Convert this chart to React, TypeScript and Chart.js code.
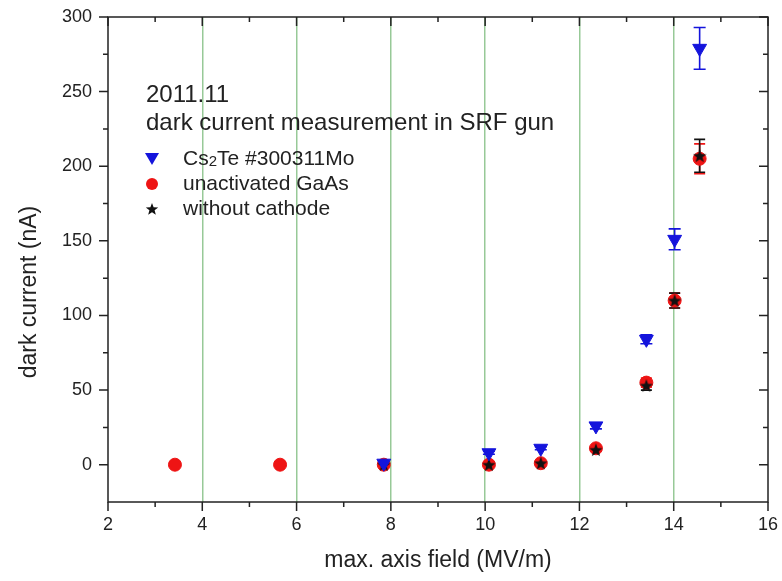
import React, { useEffect, useRef } from 'react';
import { Chart, registerables } from 'chart.js';

Chart.register(...registerables);

// ---- data ----
const xTicks = [2, 4, 6, 8, 10, 12, 14, 16];
const xMinorTicks = [3, 5, 7, 9, 11, 13, 15];
const yTicks = [0, 50, 100, 150, 200, 250, 300];
const yMinorTicks = [25, 75, 125, 175, 225, 275];
const gridLines = [4, 6, 8, 10, 12, 14];

const cs2teX = [7.85, 10.08, 11.18, 12.35, 13.42, 14.02, 14.55];
const cs2teY = [1, 8, 11, 26, 84, 151, 279];
const cs2teErr = [1, 1, 1, 2, 3, 7, 14];

const gaasX = [3.42, 5.65, 7.85, 10.08, 11.18, 12.35, 13.42, 14.02, 14.55];
const gaasY = [0, 0, 0, 0, 1, 11, 55, 110, 205];
const gaasErr = [0, 0, 0, 1, 1, 1, 3, 5, 10];

const noCathX = [7.85, 10.08, 11.18, 12.35, 13.42, 14.02, 14.55];
const noCathY = [0, 0, 1, 10, 53, 110, 207];
const noCathErr = [0, 0, 1, 1, 3, 5, 11];

const legendTitle1 = '2011.11';
const legendTitle2 = 'dark current measurement in SRF gun';
const xTitle = 'max. axis field (MV/m)';
const yTitle = 'dark current (nA)';

const FONT = "'Liberation Sans', Arial, sans-serif";
const TXT = '#222';
const BLUE = '#1414dc';
const RED = '#ee1414';
const BLACK = '#111';
const GREEN = 'rgba(140,195,140,0.9)';

function starPath(ctx: CanvasRenderingContext2D, cx: number, cy: number, R: number) {
  const r = R * 0.42;
  ctx.beginPath();
  for (let i = 0; i < 10; i++) {
    const rad = i % 2 === 0 ? R : r;
    const a = -Math.PI / 2 + (i * Math.PI) / 5;
    const px = cx + rad * Math.cos(a);
    const py = cy + rad * Math.sin(a);
    if (i === 0) ctx.moveTo(px, py);
    else ctx.lineTo(px, py);
  }
  ctx.closePath();
}

function makeStar(size: number, color: string) {
  const c = document.createElement('canvas');
  c.width = size;
  c.height = size;
  const g = c.getContext('2d')!;
  g.fillStyle = color;
  starPath(g, size / 2, size / 2 + size * 0.04, size / 2);
  g.fill();
  return c;
}

const errorBarPlugin = {
  id: 'errorBars',
  beforeDatasetsDraw(chart: any) {
    const { ctx } = chart;
    const xs = chart.scales.x;
    const ys = chart.scales.y;
    const sets = [
      { x: gaasX, y: gaasY, e: gaasErr, c: RED, w: 11 },
      { x: noCathX, y: noCathY, e: noCathErr, c: BLACK, w: 11 },
      { x: cs2teX, y: cs2teY, e: cs2teErr, c: BLUE, w: 12 },
    ];
    ctx.save();
    ctx.lineWidth = 1.6;
    for (const s of sets) {
      ctx.strokeStyle = s.c;
      for (let i = 0; i < s.x.length; i++) {
        if (!s.e[i]) continue;
        const px = xs.getPixelForValue(s.x[i]);
        const top = ys.getPixelForValue(s.y[i] + s.e[i]);
        const bot = ys.getPixelForValue(s.y[i] - s.e[i]);
        ctx.beginPath();
        ctx.moveTo(px, top);
        ctx.lineTo(px, bot);
        ctx.moveTo(px - s.w / 2, top);
        ctx.lineTo(px + s.w / 2, top);
        ctx.moveTo(px - s.w / 2, bot);
        ctx.lineTo(px + s.w / 2, bot);
        ctx.stroke();
      }
    }
    ctx.restore();
  },
};

const framePlugin = {
  id: 'frame',
  afterDatasetsDraw(chart: any) {
    const { ctx, chartArea: a } = chart;
    const xs = chart.scales.x;
    const ys = chart.scales.y;
    const MAJ = 9;
    const MIN = 5;
    ctx.save();
    ctx.strokeStyle = '#222';
    ctx.lineWidth = 1.5;
    ctx.strokeRect(a.left, a.top, a.right - a.left, a.bottom - a.top);
    ctx.beginPath();
    const xt = (v: number, len: number) => {
      const p = xs.getPixelForValue(v);
      ctx.moveTo(p, a.bottom);
      ctx.lineTo(p, a.bottom + len);
      ctx.moveTo(p, a.top);
      ctx.lineTo(p, a.top + len);
    };
    const yt = (v: number, len: number) => {
      const p = ys.getPixelForValue(v);
      ctx.moveTo(a.left, p);
      ctx.lineTo(a.left - len, p);
      ctx.moveTo(a.right, p);
      ctx.lineTo(a.right - len, p);
    };
    xTicks.forEach((v) => xt(v, MAJ));
    xMinorTicks.forEach((v) => xt(v, MIN));
    yTicks.forEach((v) => yt(v, MAJ));
    yMinorTicks.forEach((v) => yt(v, MIN));
    ctx.stroke();
    ctx.restore();
  },
};

const annotationPlugin = {
  id: 'annot',
  afterDraw(chart: any) {
    const { ctx } = chart;
    ctx.save();
    ctx.fillStyle = TXT;
    ctx.textBaseline = 'middle';
    ctx.textAlign = 'left';
    ctx.font = `24px ${FONT}`;
    ctx.fillText(legendTitle1, 146, 95);
    ctx.fillText(legendTitle2, 146, 123);

    const mx = 152;
    const tx = 183;
    const rows = [159, 184, 209];
    // entry 1: triangle
    ctx.fillStyle = BLUE;
    ctx.beginPath();
    ctx.moveTo(mx - 7, rows[0] - 6);
    ctx.lineTo(mx + 7, rows[0] - 6);
    ctx.lineTo(mx, rows[0] + 6);
    ctx.closePath();
    ctx.fill();
    // entry 2: circle
    ctx.fillStyle = RED;
    ctx.beginPath();
    ctx.arc(mx, rows[1], 6, 0, Math.PI * 2);
    ctx.fill();
    // entry 3: star
    ctx.fillStyle = BLACK;
    starPath(ctx, mx, rows[2] + 0.5, 6.5);
    ctx.fill();

    ctx.fillStyle = TXT;
    ctx.font = `21px ${FONT}`;
    // Cs2Te with subscript
    let x = tx;
    ctx.fillText('Cs', x, rows[0]);
    x += ctx.measureText('Cs').width;
    ctx.font = `15px ${FONT}`;
    ctx.fillText('2', x, rows[0] + 3);
    x += ctx.measureText('2').width;
    ctx.font = `21px ${FONT}`;
    ctx.fillText('Te #300311Mo', x, rows[0]);
    ctx.fillText('unactivated GaAs', tx, rows[1]);
    ctx.fillText('without cathode', tx, rows[2]);

    // y axis title
    ctx.save();
    ctx.translate(30, 292);
    ctx.rotate(-Math.PI / 2);
    ctx.textAlign = 'center';
    ctx.font = `23px ${FONT}`;
    ctx.fillText(yTitle, 0, 0);
    ctx.restore();
    ctx.restore();
  },
};

export default function App() {
  const ref = useRef<HTMLCanvasElement | null>(null);
  useEffect(() => {
    if (!ref.current) return;
    const star = makeStar(14, BLACK);
    const chart = new Chart(ref.current, {
      type: 'scatter',
      data: {
        datasets: [
          {
            label: 'Cs2Te #300311Mo',
            data: cs2teX.map((x, i) => ({ x, y: cs2teY[i] })),
            pointStyle: 'triangle',
            rotation: 180,
            radius: 8,
            backgroundColor: BLUE,
            borderColor: BLUE,
            borderWidth: 1,
            order: 0,
          },
          {
            label: 'without cathode',
            data: noCathX.map((x, i) => ({ x, y: noCathY[i] })),
            pointStyle: star as any,
            radius: 7,
            backgroundColor: BLACK,
            borderColor: BLACK,
            order: 1,
          },
          {
            label: 'unactivated GaAs',
            data: gaasX.map((x, i) => ({ x, y: gaasY[i] })),
            pointStyle: 'circle',
            radius: 6.5,
            backgroundColor: RED,
            borderColor: RED,
            borderWidth: 1,
            order: 2,
          },
        ],
      },
      options: {
        responsive: false,
        animation: false,
        events: [],
        layout: { padding: 0 },
        plugins: {
          legend: { display: false },
          tooltip: { enabled: false },
        },
        scales: {
          x: {
            type: 'linear',
            min: 2,
            max: 16,
            afterBuildTicks: (axis: any) => {
              axis.ticks = xTicks.map((v) => ({ value: v }));
            },
            afterFit: (s: any) => {
              s.height = 79;
              s.paddingLeft = 0;
              s.paddingRight = 14;
            },
            grid: {
              drawTicks: false,
              lineWidth: 1.5,
              color: (c: any) =>
                c.tick && gridLines.includes(c.tick.value) ? GREEN : 'rgba(0,0,0,0)',
            },
            border: { display: false },
            ticks: {
              padding: 12,
              autoSkip: false,
              maxRotation: 0,
              color: TXT,
              font: { family: FONT, size: 18 },
            },
            title: {
              display: true,
              text: xTitle,
              color: TXT,
              font: { family: FONT, size: 23 },
              padding: { top: 0, bottom: 7 },
            },
          },
          y: {
            type: 'linear',
            min: -25,
            max: 300,
            afterBuildTicks: (axis: any) => {
              axis.ticks = yTicks.map((v) => ({ value: v }));
            },
            afterFit: (s: any) => {
              s.width = 108;
              s.paddingTop = 17;
              s.paddingBottom = 0;
            },
            grid: { display: false, drawTicks: false },
            border: { display: false },
            ticks: {
              padding: 16,
              autoSkip: false,
              color: TXT,
              font: { family: FONT, size: 18 },
            },
          },
        },
      },
      plugins: [errorBarPlugin, framePlugin, annotationPlugin],
    } as any);
    return () => chart.destroy();
  }, []);
  return (
    <div style={{ position: 'absolute', left: 0, top: 0, width: 782, height: 581, background: '#fff' }}>
      <canvas ref={ref} width={782} height={581} style={{ display: 'block' }} />
    </div>
  );
}
